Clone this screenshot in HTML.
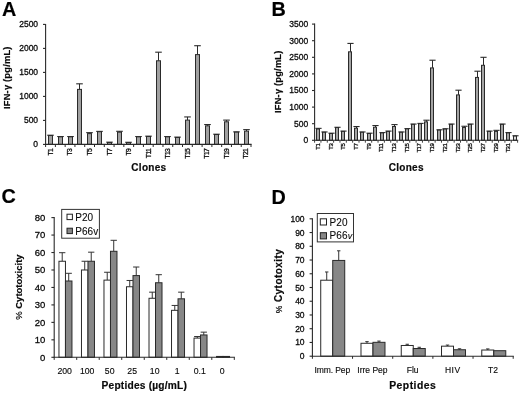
<!DOCTYPE html>
<html><head><meta charset="utf-8"><title>Figure</title>
<style>
html,body{margin:0;padding:0;background:#fff;}
body{width:520px;height:393px;overflow:hidden;font-family:"Liberation Sans",sans-serif;}
svg{display:block;filter:blur(0.35px);}
svg text{font-family:"Liberation Sans",sans-serif;}
</style></head><body>
<svg width="520" height="393" viewBox="0 0 520 393">
<rect x="-5" y="-5" width="530" height="403" fill="#ffffff"/>
<text x="2.00" y="15.80" font-size="19.8" text-anchor="start" fill="#000" font-weight="bold" stroke="#000" stroke-width="0.18" >A</text>
<line x1="43.00" y1="144.40" x2="45.60" y2="144.40" stroke="#2a2a2a" stroke-width="1.1"/>
<text x="38.10" y="147.15" font-size="8.5" text-anchor="end" fill="#0a0a0a" stroke="#0a0a0a" stroke-width="0.28" >0</text>
<line x1="43.00" y1="120.40" x2="45.60" y2="120.40" stroke="#2a2a2a" stroke-width="1.1"/>
<text x="38.10" y="123.15" font-size="8.5" text-anchor="end" fill="#0a0a0a" stroke="#0a0a0a" stroke-width="0.28" >500</text>
<line x1="43.00" y1="96.40" x2="45.60" y2="96.40" stroke="#2a2a2a" stroke-width="1.1"/>
<text x="38.10" y="99.15" font-size="8.5" text-anchor="end" fill="#0a0a0a" stroke="#0a0a0a" stroke-width="0.28" >1000</text>
<line x1="43.00" y1="72.40" x2="45.60" y2="72.40" stroke="#2a2a2a" stroke-width="1.1"/>
<text x="38.10" y="75.15" font-size="8.5" text-anchor="end" fill="#0a0a0a" stroke="#0a0a0a" stroke-width="0.28" >1500</text>
<line x1="43.00" y1="48.40" x2="45.60" y2="48.40" stroke="#2a2a2a" stroke-width="1.1"/>
<text x="38.10" y="51.15" font-size="8.5" text-anchor="end" fill="#0a0a0a" stroke="#0a0a0a" stroke-width="0.28" >2000</text>
<line x1="43.00" y1="24.40" x2="45.60" y2="24.40" stroke="#2a2a2a" stroke-width="1.1"/>
<text x="38.10" y="27.15" font-size="8.5" text-anchor="end" fill="#0a0a0a" stroke="#0a0a0a" stroke-width="0.28" >2500</text>
<line x1="50.50" y1="135.52" x2="50.50" y2="135.22" stroke="#2a2a2a" stroke-width="1"/>
<line x1="47.20" y1="135.22" x2="53.80" y2="135.22" stroke="#2a2a2a" stroke-width="1.1"/>
<rect x="48.50" y="135.52" width="4.00" height="8.88" fill="#a0a0a0" stroke="#2a2a2a" stroke-width="1.0"/>
<line x1="60.50" y1="136.82" x2="60.50" y2="136.52" stroke="#2a2a2a" stroke-width="1"/>
<line x1="57.20" y1="136.52" x2="63.80" y2="136.52" stroke="#2a2a2a" stroke-width="1.1"/>
<rect x="58.50" y="136.82" width="4.00" height="7.58" fill="#a0a0a0" stroke="#2a2a2a" stroke-width="1.0"/>
<line x1="70.50" y1="136.82" x2="70.50" y2="136.52" stroke="#2a2a2a" stroke-width="1"/>
<line x1="67.20" y1="136.52" x2="73.80" y2="136.52" stroke="#2a2a2a" stroke-width="1.1"/>
<rect x="68.50" y="136.82" width="4.00" height="7.58" fill="#a0a0a0" stroke="#2a2a2a" stroke-width="1.0"/>
<line x1="79.50" y1="89.39" x2="79.50" y2="83.82" stroke="#2a2a2a" stroke-width="1"/>
<line x1="76.20" y1="83.82" x2="82.80" y2="83.82" stroke="#2a2a2a" stroke-width="1.1"/>
<rect x="77.50" y="89.39" width="4.00" height="55.01" fill="#a0a0a0" stroke="#2a2a2a" stroke-width="1.0"/>
<line x1="89.50" y1="133.60" x2="89.50" y2="132.64" stroke="#2a2a2a" stroke-width="1"/>
<line x1="86.20" y1="132.64" x2="92.80" y2="132.64" stroke="#2a2a2a" stroke-width="1.1"/>
<rect x="87.50" y="133.60" width="4.00" height="10.80" fill="#a0a0a0" stroke="#2a2a2a" stroke-width="1.0"/>
<line x1="99.50" y1="131.68" x2="99.50" y2="131.38" stroke="#2a2a2a" stroke-width="1"/>
<line x1="96.20" y1="131.38" x2="102.80" y2="131.38" stroke="#2a2a2a" stroke-width="1.1"/>
<rect x="97.50" y="131.68" width="4.00" height="12.72" fill="#a0a0a0" stroke="#2a2a2a" stroke-width="1.0"/>
<line x1="109.50" y1="142.48" x2="109.50" y2="142.18" stroke="#2a2a2a" stroke-width="1"/>
<line x1="106.20" y1="142.18" x2="112.80" y2="142.18" stroke="#2a2a2a" stroke-width="1.1"/>
<rect x="107.50" y="142.48" width="4.00" height="1.92" fill="#a0a0a0" stroke="#2a2a2a" stroke-width="1.0"/>
<line x1="119.50" y1="132.16" x2="119.50" y2="131.30" stroke="#2a2a2a" stroke-width="1"/>
<line x1="116.20" y1="131.30" x2="122.80" y2="131.30" stroke="#2a2a2a" stroke-width="1.1"/>
<rect x="117.50" y="132.16" width="4.00" height="12.24" fill="#a0a0a0" stroke="#2a2a2a" stroke-width="1.0"/>
<line x1="128.50" y1="142.58" x2="128.50" y2="142.28" stroke="#2a2a2a" stroke-width="1"/>
<line x1="125.20" y1="142.28" x2="131.80" y2="142.28" stroke="#2a2a2a" stroke-width="1.1"/>
<rect x="126.50" y="142.58" width="4.00" height="1.82" fill="#a0a0a0" stroke="#2a2a2a" stroke-width="1.0"/>
<line x1="138.50" y1="136.82" x2="138.50" y2="136.52" stroke="#2a2a2a" stroke-width="1"/>
<line x1="135.20" y1="136.52" x2="141.80" y2="136.52" stroke="#2a2a2a" stroke-width="1.1"/>
<rect x="136.50" y="136.82" width="4.00" height="7.58" fill="#a0a0a0" stroke="#2a2a2a" stroke-width="1.0"/>
<line x1="148.50" y1="136.48" x2="148.50" y2="136.18" stroke="#2a2a2a" stroke-width="1"/>
<line x1="145.20" y1="136.18" x2="151.80" y2="136.18" stroke="#2a2a2a" stroke-width="1.1"/>
<rect x="146.50" y="136.48" width="4.00" height="7.92" fill="#a0a0a0" stroke="#2a2a2a" stroke-width="1.0"/>
<line x1="158.50" y1="60.78" x2="158.50" y2="52.19" stroke="#2a2a2a" stroke-width="1"/>
<line x1="155.20" y1="52.19" x2="161.80" y2="52.19" stroke="#2a2a2a" stroke-width="1.1"/>
<rect x="156.50" y="60.78" width="4.00" height="83.62" fill="#a0a0a0" stroke="#2a2a2a" stroke-width="1.0"/>
<line x1="167.50" y1="136.82" x2="167.50" y2="136.52" stroke="#2a2a2a" stroke-width="1"/>
<line x1="164.20" y1="136.52" x2="170.80" y2="136.52" stroke="#2a2a2a" stroke-width="1.1"/>
<rect x="165.50" y="136.82" width="4.00" height="7.58" fill="#a0a0a0" stroke="#2a2a2a" stroke-width="1.0"/>
<line x1="177.50" y1="137.44" x2="177.50" y2="137.14" stroke="#2a2a2a" stroke-width="1"/>
<line x1="174.20" y1="137.14" x2="180.80" y2="137.14" stroke="#2a2a2a" stroke-width="1.1"/>
<rect x="175.50" y="137.44" width="4.00" height="6.96" fill="#a0a0a0" stroke="#2a2a2a" stroke-width="1.0"/>
<line x1="187.50" y1="120.11" x2="187.50" y2="116.94" stroke="#2a2a2a" stroke-width="1"/>
<line x1="184.20" y1="116.94" x2="190.80" y2="116.94" stroke="#2a2a2a" stroke-width="1.1"/>
<rect x="185.50" y="120.11" width="4.00" height="24.29" fill="#a0a0a0" stroke="#2a2a2a" stroke-width="1.0"/>
<line x1="197.50" y1="54.59" x2="197.50" y2="45.71" stroke="#2a2a2a" stroke-width="1"/>
<line x1="194.20" y1="45.71" x2="200.80" y2="45.71" stroke="#2a2a2a" stroke-width="1.1"/>
<rect x="195.50" y="54.59" width="4.00" height="89.81" fill="#a0a0a0" stroke="#2a2a2a" stroke-width="1.0"/>
<line x1="207.50" y1="125.82" x2="207.50" y2="124.53" stroke="#2a2a2a" stroke-width="1"/>
<line x1="204.20" y1="124.53" x2="210.80" y2="124.53" stroke="#2a2a2a" stroke-width="1.1"/>
<rect x="205.50" y="125.82" width="4.00" height="18.58" fill="#a0a0a0" stroke="#2a2a2a" stroke-width="1.0"/>
<line x1="216.50" y1="134.51" x2="216.50" y2="134.21" stroke="#2a2a2a" stroke-width="1"/>
<line x1="213.20" y1="134.21" x2="219.80" y2="134.21" stroke="#2a2a2a" stroke-width="1.1"/>
<rect x="214.50" y="134.51" width="4.00" height="9.89" fill="#a0a0a0" stroke="#2a2a2a" stroke-width="1.0"/>
<line x1="226.50" y1="121.79" x2="226.50" y2="120.11" stroke="#2a2a2a" stroke-width="1"/>
<line x1="223.20" y1="120.11" x2="229.80" y2="120.11" stroke="#2a2a2a" stroke-width="1.1"/>
<rect x="224.50" y="121.79" width="4.00" height="22.61" fill="#a0a0a0" stroke="#2a2a2a" stroke-width="1.0"/>
<line x1="236.50" y1="132.16" x2="236.50" y2="131.86" stroke="#2a2a2a" stroke-width="1"/>
<line x1="233.20" y1="131.86" x2="239.80" y2="131.86" stroke="#2a2a2a" stroke-width="1.1"/>
<rect x="234.50" y="132.16" width="4.00" height="12.24" fill="#a0a0a0" stroke="#2a2a2a" stroke-width="1.0"/>
<line x1="246.50" y1="131.10" x2="246.50" y2="129.62" stroke="#2a2a2a" stroke-width="1"/>
<line x1="243.20" y1="129.62" x2="249.80" y2="129.62" stroke="#2a2a2a" stroke-width="1.1"/>
<rect x="244.50" y="131.10" width="4.00" height="13.30" fill="#a0a0a0" stroke="#2a2a2a" stroke-width="1.0"/>
<line x1="45.60" y1="23.90" x2="45.60" y2="144.90" stroke="#2a2a2a" stroke-width="1.1"/>
<line x1="45.10" y1="144.40" x2="251.60" y2="144.40" stroke="#2a2a2a" stroke-width="1.1"/>
<line x1="45.60" y1="144.40" x2="45.60" y2="147.00" stroke="#2a2a2a" stroke-width="1"/>
<line x1="55.38" y1="144.40" x2="55.38" y2="147.00" stroke="#2a2a2a" stroke-width="1"/>
<line x1="65.16" y1="144.40" x2="65.16" y2="147.00" stroke="#2a2a2a" stroke-width="1"/>
<line x1="74.94" y1="144.40" x2="74.94" y2="147.00" stroke="#2a2a2a" stroke-width="1"/>
<line x1="84.72" y1="144.40" x2="84.72" y2="147.00" stroke="#2a2a2a" stroke-width="1"/>
<line x1="94.50" y1="144.40" x2="94.50" y2="147.00" stroke="#2a2a2a" stroke-width="1"/>
<line x1="104.29" y1="144.40" x2="104.29" y2="147.00" stroke="#2a2a2a" stroke-width="1"/>
<line x1="114.07" y1="144.40" x2="114.07" y2="147.00" stroke="#2a2a2a" stroke-width="1"/>
<line x1="123.85" y1="144.40" x2="123.85" y2="147.00" stroke="#2a2a2a" stroke-width="1"/>
<line x1="133.63" y1="144.40" x2="133.63" y2="147.00" stroke="#2a2a2a" stroke-width="1"/>
<line x1="143.41" y1="144.40" x2="143.41" y2="147.00" stroke="#2a2a2a" stroke-width="1"/>
<line x1="153.19" y1="144.40" x2="153.19" y2="147.00" stroke="#2a2a2a" stroke-width="1"/>
<line x1="162.97" y1="144.40" x2="162.97" y2="147.00" stroke="#2a2a2a" stroke-width="1"/>
<line x1="172.75" y1="144.40" x2="172.75" y2="147.00" stroke="#2a2a2a" stroke-width="1"/>
<line x1="182.53" y1="144.40" x2="182.53" y2="147.00" stroke="#2a2a2a" stroke-width="1"/>
<line x1="192.31" y1="144.40" x2="192.31" y2="147.00" stroke="#2a2a2a" stroke-width="1"/>
<line x1="202.10" y1="144.40" x2="202.10" y2="147.00" stroke="#2a2a2a" stroke-width="1"/>
<line x1="211.88" y1="144.40" x2="211.88" y2="147.00" stroke="#2a2a2a" stroke-width="1"/>
<line x1="221.66" y1="144.40" x2="221.66" y2="147.00" stroke="#2a2a2a" stroke-width="1"/>
<line x1="231.44" y1="144.40" x2="231.44" y2="147.00" stroke="#2a2a2a" stroke-width="1"/>
<line x1="241.22" y1="144.40" x2="241.22" y2="147.00" stroke="#2a2a2a" stroke-width="1"/>
<line x1="251.00" y1="144.40" x2="251.00" y2="147.00" stroke="#2a2a2a" stroke-width="1"/>
<text x="52.84" y="148.70" font-size="6.8" text-anchor="end" fill="#0a0a0a" stroke="#0a0a0a" stroke-width="0.28" transform="rotate(-90 52.84 148.70)" letter-spacing="-0.6">T1</text>
<text x="72.40" y="148.70" font-size="6.8" text-anchor="end" fill="#0a0a0a" stroke="#0a0a0a" stroke-width="0.28" transform="rotate(-90 72.40 148.70)" letter-spacing="-0.6">T3</text>
<text x="91.96" y="148.70" font-size="6.8" text-anchor="end" fill="#0a0a0a" stroke="#0a0a0a" stroke-width="0.28" transform="rotate(-90 91.96 148.70)" letter-spacing="-0.6">T5</text>
<text x="111.53" y="148.70" font-size="6.8" text-anchor="end" fill="#0a0a0a" stroke="#0a0a0a" stroke-width="0.28" transform="rotate(-90 111.53 148.70)" letter-spacing="-0.6">T7</text>
<text x="131.09" y="148.70" font-size="6.8" text-anchor="end" fill="#0a0a0a" stroke="#0a0a0a" stroke-width="0.28" transform="rotate(-90 131.09 148.70)" letter-spacing="-0.6">T9</text>
<text x="150.65" y="148.70" font-size="6.8" text-anchor="end" fill="#0a0a0a" stroke="#0a0a0a" stroke-width="0.28" transform="rotate(-90 150.65 148.70)" letter-spacing="-0.6">T11</text>
<text x="170.21" y="148.70" font-size="6.8" text-anchor="end" fill="#0a0a0a" stroke="#0a0a0a" stroke-width="0.28" transform="rotate(-90 170.21 148.70)" letter-spacing="-0.6">T13</text>
<text x="189.77" y="148.70" font-size="6.8" text-anchor="end" fill="#0a0a0a" stroke="#0a0a0a" stroke-width="0.28" transform="rotate(-90 189.77 148.70)" letter-spacing="-0.6">T15</text>
<text x="209.34" y="148.70" font-size="6.8" text-anchor="end" fill="#0a0a0a" stroke="#0a0a0a" stroke-width="0.28" transform="rotate(-90 209.34 148.70)" letter-spacing="-0.6">T17</text>
<text x="228.90" y="148.70" font-size="6.8" text-anchor="end" fill="#0a0a0a" stroke="#0a0a0a" stroke-width="0.28" transform="rotate(-90 228.90 148.70)" letter-spacing="-0.6">T19</text>
<text x="248.46" y="148.70" font-size="6.8" text-anchor="end" fill="#0a0a0a" stroke="#0a0a0a" stroke-width="0.28" transform="rotate(-90 248.46 148.70)" letter-spacing="-0.6">T21</text>
<text x="148.90" y="170.80" font-size="10" text-anchor="middle" fill="#0a0a0a" font-weight="bold" stroke="#0a0a0a" stroke-width="0.18" letter-spacing="0.3">Clones</text>
<text x="10.30" y="77.70" font-size="9.3" text-anchor="middle" fill="#0a0a0a" font-weight="bold" stroke="#0a0a0a" stroke-width="0.18" transform="rotate(-90 10.30 77.70)" letter-spacing="0.2">IFN-&#947; (pg/mL)</text>
<text x="271.60" y="16.00" font-size="19.8" text-anchor="start" fill="#000" font-weight="bold" stroke="#000" stroke-width="0.18" >B</text>
<line x1="312.00" y1="140.30" x2="314.60" y2="140.30" stroke="#2a2a2a" stroke-width="1.1"/>
<text x="308.20" y="143.20" font-size="8.5" text-anchor="end" fill="#0a0a0a" stroke="#0a0a0a" stroke-width="0.28" >0</text>
<line x1="312.00" y1="123.70" x2="314.60" y2="123.70" stroke="#2a2a2a" stroke-width="1.1"/>
<text x="308.20" y="126.60" font-size="8.5" text-anchor="end" fill="#0a0a0a" stroke="#0a0a0a" stroke-width="0.28" >500</text>
<line x1="312.00" y1="107.10" x2="314.60" y2="107.10" stroke="#2a2a2a" stroke-width="1.1"/>
<text x="308.20" y="110.00" font-size="8.5" text-anchor="end" fill="#0a0a0a" stroke="#0a0a0a" stroke-width="0.28" >1000</text>
<line x1="312.00" y1="90.50" x2="314.60" y2="90.50" stroke="#2a2a2a" stroke-width="1.1"/>
<text x="308.20" y="93.40" font-size="8.5" text-anchor="end" fill="#0a0a0a" stroke="#0a0a0a" stroke-width="0.28" >1500</text>
<line x1="312.00" y1="73.90" x2="314.60" y2="73.90" stroke="#2a2a2a" stroke-width="1.1"/>
<text x="308.20" y="76.80" font-size="8.5" text-anchor="end" fill="#0a0a0a" stroke="#0a0a0a" stroke-width="0.28" >2000</text>
<line x1="312.00" y1="57.30" x2="314.60" y2="57.30" stroke="#2a2a2a" stroke-width="1.1"/>
<text x="308.20" y="60.20" font-size="8.5" text-anchor="end" fill="#0a0a0a" stroke="#0a0a0a" stroke-width="0.28" >2500</text>
<line x1="312.00" y1="40.70" x2="314.60" y2="40.70" stroke="#2a2a2a" stroke-width="1.1"/>
<text x="308.20" y="43.60" font-size="8.5" text-anchor="end" fill="#0a0a0a" stroke="#0a0a0a" stroke-width="0.28" >3000</text>
<line x1="312.00" y1="24.10" x2="314.60" y2="24.10" stroke="#2a2a2a" stroke-width="1.1"/>
<text x="308.20" y="27.00" font-size="8.5" text-anchor="end" fill="#0a0a0a" stroke="#0a0a0a" stroke-width="0.28" >3500</text>
<line x1="318.50" y1="129.01" x2="318.50" y2="128.35" stroke="#2a2a2a" stroke-width="1"/>
<line x1="315.40" y1="128.35" x2="321.60" y2="128.35" stroke="#2a2a2a" stroke-width="1.1"/>
<rect x="316.50" y="129.01" width="3.00" height="11.29" fill="#a4a4a4" stroke="#2a2a2a" stroke-width="1.0"/>
<line x1="324.50" y1="132.27" x2="324.50" y2="131.97" stroke="#2a2a2a" stroke-width="1"/>
<line x1="321.40" y1="131.97" x2="327.60" y2="131.97" stroke="#2a2a2a" stroke-width="1.1"/>
<rect x="322.50" y="132.27" width="3.00" height="8.03" fill="#a4a4a4" stroke="#2a2a2a" stroke-width="1.0"/>
<line x1="331.50" y1="133.49" x2="331.50" y2="133.19" stroke="#2a2a2a" stroke-width="1"/>
<line x1="328.40" y1="133.19" x2="334.60" y2="133.19" stroke="#2a2a2a" stroke-width="1.1"/>
<rect x="329.50" y="133.49" width="3.00" height="6.81" fill="#a4a4a4" stroke="#2a2a2a" stroke-width="1.0"/>
<line x1="337.50" y1="127.58" x2="337.50" y2="127.28" stroke="#2a2a2a" stroke-width="1"/>
<line x1="334.40" y1="127.28" x2="340.60" y2="127.28" stroke="#2a2a2a" stroke-width="1.1"/>
<rect x="335.50" y="127.58" width="3.00" height="12.72" fill="#a4a4a4" stroke="#2a2a2a" stroke-width="1.0"/>
<line x1="343.50" y1="131.40" x2="343.50" y2="131.10" stroke="#2a2a2a" stroke-width="1"/>
<line x1="340.40" y1="131.10" x2="346.60" y2="131.10" stroke="#2a2a2a" stroke-width="1.1"/>
<rect x="341.50" y="131.40" width="3.00" height="8.90" fill="#a4a4a4" stroke="#2a2a2a" stroke-width="1.0"/>
<line x1="350.50" y1="51.82" x2="350.50" y2="43.42" stroke="#2a2a2a" stroke-width="1"/>
<line x1="347.40" y1="43.42" x2="353.60" y2="43.42" stroke="#2a2a2a" stroke-width="1.1"/>
<rect x="348.50" y="51.82" width="3.00" height="88.48" fill="#a4a4a4" stroke="#2a2a2a" stroke-width="1.0"/>
<line x1="356.50" y1="128.18" x2="356.50" y2="126.52" stroke="#2a2a2a" stroke-width="1"/>
<line x1="353.40" y1="126.52" x2="359.60" y2="126.52" stroke="#2a2a2a" stroke-width="1.1"/>
<rect x="354.50" y="128.18" width="3.00" height="12.12" fill="#a4a4a4" stroke="#2a2a2a" stroke-width="1.0"/>
<line x1="362.50" y1="132.27" x2="362.50" y2="131.97" stroke="#2a2a2a" stroke-width="1"/>
<line x1="359.40" y1="131.97" x2="365.60" y2="131.97" stroke="#2a2a2a" stroke-width="1.1"/>
<rect x="360.50" y="132.27" width="3.00" height="8.03" fill="#a4a4a4" stroke="#2a2a2a" stroke-width="1.0"/>
<line x1="369.50" y1="133.49" x2="369.50" y2="133.19" stroke="#2a2a2a" stroke-width="1"/>
<line x1="366.40" y1="133.19" x2="372.60" y2="133.19" stroke="#2a2a2a" stroke-width="1.1"/>
<rect x="367.50" y="133.49" width="3.00" height="6.81" fill="#a4a4a4" stroke="#2a2a2a" stroke-width="1.0"/>
<line x1="375.50" y1="127.19" x2="375.50" y2="125.53" stroke="#2a2a2a" stroke-width="1"/>
<line x1="372.40" y1="125.53" x2="378.60" y2="125.53" stroke="#2a2a2a" stroke-width="1.1"/>
<rect x="373.50" y="127.19" width="3.00" height="13.11" fill="#a4a4a4" stroke="#2a2a2a" stroke-width="1.0"/>
<line x1="382.50" y1="132.90" x2="382.50" y2="132.60" stroke="#2a2a2a" stroke-width="1"/>
<line x1="379.40" y1="132.60" x2="385.60" y2="132.60" stroke="#2a2a2a" stroke-width="1.1"/>
<rect x="380.50" y="132.90" width="3.00" height="7.40" fill="#a4a4a4" stroke="#2a2a2a" stroke-width="1.0"/>
<line x1="388.50" y1="131.40" x2="388.50" y2="131.10" stroke="#2a2a2a" stroke-width="1"/>
<line x1="385.40" y1="131.10" x2="391.60" y2="131.10" stroke="#2a2a2a" stroke-width="1.1"/>
<rect x="386.50" y="131.40" width="3.00" height="8.90" fill="#a4a4a4" stroke="#2a2a2a" stroke-width="1.0"/>
<line x1="394.50" y1="126.52" x2="394.50" y2="124.60" stroke="#2a2a2a" stroke-width="1"/>
<line x1="391.40" y1="124.60" x2="397.60" y2="124.60" stroke="#2a2a2a" stroke-width="1.1"/>
<rect x="392.50" y="126.52" width="3.00" height="13.78" fill="#a4a4a4" stroke="#2a2a2a" stroke-width="1.0"/>
<line x1="401.50" y1="132.27" x2="401.50" y2="131.97" stroke="#2a2a2a" stroke-width="1"/>
<line x1="398.40" y1="131.97" x2="404.60" y2="131.97" stroke="#2a2a2a" stroke-width="1.1"/>
<rect x="399.50" y="132.27" width="3.00" height="8.03" fill="#a4a4a4" stroke="#2a2a2a" stroke-width="1.0"/>
<line x1="407.50" y1="128.91" x2="407.50" y2="128.61" stroke="#2a2a2a" stroke-width="1"/>
<line x1="404.40" y1="128.61" x2="410.60" y2="128.61" stroke="#2a2a2a" stroke-width="1.1"/>
<rect x="405.50" y="128.91" width="3.00" height="11.39" fill="#a4a4a4" stroke="#2a2a2a" stroke-width="1.0"/>
<line x1="413.50" y1="124.36" x2="413.50" y2="124.06" stroke="#2a2a2a" stroke-width="1"/>
<line x1="410.40" y1="124.06" x2="416.60" y2="124.06" stroke="#2a2a2a" stroke-width="1.1"/>
<rect x="411.50" y="124.36" width="3.00" height="15.94" fill="#a4a4a4" stroke="#2a2a2a" stroke-width="1.0"/>
<line x1="420.50" y1="123.70" x2="420.50" y2="123.40" stroke="#2a2a2a" stroke-width="1"/>
<line x1="417.40" y1="123.40" x2="423.60" y2="123.40" stroke="#2a2a2a" stroke-width="1.1"/>
<rect x="418.50" y="123.70" width="3.00" height="16.60" fill="#a4a4a4" stroke="#2a2a2a" stroke-width="1.0"/>
<line x1="426.50" y1="121.87" x2="426.50" y2="120.21" stroke="#2a2a2a" stroke-width="1"/>
<line x1="423.40" y1="120.21" x2="429.60" y2="120.21" stroke="#2a2a2a" stroke-width="1.1"/>
<rect x="424.50" y="121.87" width="3.00" height="18.43" fill="#a4a4a4" stroke="#2a2a2a" stroke-width="1.0"/>
<line x1="432.50" y1="67.92" x2="432.50" y2="60.22" stroke="#2a2a2a" stroke-width="1"/>
<line x1="429.40" y1="60.22" x2="435.60" y2="60.22" stroke="#2a2a2a" stroke-width="1.1"/>
<rect x="430.50" y="67.92" width="3.00" height="72.38" fill="#a4a4a4" stroke="#2a2a2a" stroke-width="1.0"/>
<line x1="439.50" y1="130.11" x2="439.50" y2="129.81" stroke="#2a2a2a" stroke-width="1"/>
<line x1="436.40" y1="129.81" x2="442.60" y2="129.81" stroke="#2a2a2a" stroke-width="1.1"/>
<rect x="437.50" y="130.11" width="3.00" height="10.19" fill="#a4a4a4" stroke="#2a2a2a" stroke-width="1.0"/>
<line x1="445.50" y1="129.08" x2="445.50" y2="128.78" stroke="#2a2a2a" stroke-width="1"/>
<line x1="442.40" y1="128.78" x2="448.60" y2="128.78" stroke="#2a2a2a" stroke-width="1.1"/>
<rect x="443.50" y="129.08" width="3.00" height="11.22" fill="#a4a4a4" stroke="#2a2a2a" stroke-width="1.0"/>
<line x1="451.50" y1="124.36" x2="451.50" y2="124.06" stroke="#2a2a2a" stroke-width="1"/>
<line x1="448.40" y1="124.06" x2="454.60" y2="124.06" stroke="#2a2a2a" stroke-width="1.1"/>
<rect x="449.50" y="124.36" width="3.00" height="15.94" fill="#a4a4a4" stroke="#2a2a2a" stroke-width="1.0"/>
<line x1="458.50" y1="94.92" x2="458.50" y2="90.20" stroke="#2a2a2a" stroke-width="1"/>
<line x1="455.40" y1="90.20" x2="461.60" y2="90.20" stroke="#2a2a2a" stroke-width="1.1"/>
<rect x="456.50" y="94.92" width="3.00" height="45.38" fill="#a4a4a4" stroke="#2a2a2a" stroke-width="1.0"/>
<line x1="464.50" y1="127.52" x2="464.50" y2="126.26" stroke="#2a2a2a" stroke-width="1"/>
<line x1="461.40" y1="126.26" x2="467.60" y2="126.26" stroke="#2a2a2a" stroke-width="1.1"/>
<rect x="462.50" y="127.52" width="3.00" height="12.78" fill="#a4a4a4" stroke="#2a2a2a" stroke-width="1.0"/>
<line x1="470.50" y1="124.36" x2="470.50" y2="124.06" stroke="#2a2a2a" stroke-width="1"/>
<line x1="467.40" y1="124.06" x2="473.60" y2="124.06" stroke="#2a2a2a" stroke-width="1.1"/>
<rect x="468.50" y="124.36" width="3.00" height="15.94" fill="#a4a4a4" stroke="#2a2a2a" stroke-width="1.0"/>
<line x1="477.50" y1="77.42" x2="477.50" y2="71.21" stroke="#2a2a2a" stroke-width="1"/>
<line x1="474.40" y1="71.21" x2="480.60" y2="71.21" stroke="#2a2a2a" stroke-width="1.1"/>
<rect x="475.50" y="77.42" width="3.00" height="62.88" fill="#a4a4a4" stroke="#2a2a2a" stroke-width="1.0"/>
<line x1="483.50" y1="65.30" x2="483.50" y2="57.30" stroke="#2a2a2a" stroke-width="1"/>
<line x1="480.40" y1="57.30" x2="486.60" y2="57.30" stroke="#2a2a2a" stroke-width="1.1"/>
<rect x="481.50" y="65.30" width="3.00" height="75.00" fill="#a4a4a4" stroke="#2a2a2a" stroke-width="1.0"/>
<line x1="489.50" y1="131.40" x2="489.50" y2="131.10" stroke="#2a2a2a" stroke-width="1"/>
<line x1="486.40" y1="131.10" x2="492.60" y2="131.10" stroke="#2a2a2a" stroke-width="1.1"/>
<rect x="487.50" y="131.40" width="3.00" height="8.90" fill="#a4a4a4" stroke="#2a2a2a" stroke-width="1.0"/>
<line x1="496.50" y1="131.40" x2="496.50" y2="130.34" stroke="#2a2a2a" stroke-width="1"/>
<line x1="493.40" y1="130.34" x2="499.60" y2="130.34" stroke="#2a2a2a" stroke-width="1.1"/>
<rect x="494.50" y="131.40" width="3.00" height="8.90" fill="#a4a4a4" stroke="#2a2a2a" stroke-width="1.0"/>
<line x1="502.50" y1="124.36" x2="502.50" y2="124.06" stroke="#2a2a2a" stroke-width="1"/>
<line x1="499.40" y1="124.06" x2="505.60" y2="124.06" stroke="#2a2a2a" stroke-width="1.1"/>
<rect x="500.50" y="124.36" width="3.00" height="15.94" fill="#a4a4a4" stroke="#2a2a2a" stroke-width="1.0"/>
<line x1="508.50" y1="132.90" x2="508.50" y2="132.60" stroke="#2a2a2a" stroke-width="1"/>
<line x1="505.40" y1="132.60" x2="511.60" y2="132.60" stroke="#2a2a2a" stroke-width="1.1"/>
<rect x="506.50" y="132.90" width="3.00" height="7.40" fill="#a4a4a4" stroke="#2a2a2a" stroke-width="1.0"/>
<line x1="515.50" y1="136.08" x2="515.50" y2="135.78" stroke="#2a2a2a" stroke-width="1"/>
<line x1="512.40" y1="135.78" x2="518.60" y2="135.78" stroke="#2a2a2a" stroke-width="1.1"/>
<rect x="513.50" y="136.08" width="3.00" height="4.22" fill="#dcdcdc" stroke="#2a2a2a" stroke-width="1.0"/>
<line x1="314.60" y1="23.60" x2="314.60" y2="140.80" stroke="#2a2a2a" stroke-width="1.1"/>
<line x1="314.10" y1="140.30" x2="518.20" y2="140.30" stroke="#2a2a2a" stroke-width="1.1"/>
<line x1="314.60" y1="140.30" x2="314.60" y2="142.70" stroke="#2a2a2a" stroke-width="0.9"/>
<line x1="320.94" y1="140.30" x2="320.94" y2="142.70" stroke="#2a2a2a" stroke-width="0.9"/>
<line x1="327.29" y1="140.30" x2="327.29" y2="142.70" stroke="#2a2a2a" stroke-width="0.9"/>
<line x1="333.63" y1="140.30" x2="333.63" y2="142.70" stroke="#2a2a2a" stroke-width="0.9"/>
<line x1="339.98" y1="140.30" x2="339.98" y2="142.70" stroke="#2a2a2a" stroke-width="0.9"/>
<line x1="346.32" y1="140.30" x2="346.32" y2="142.70" stroke="#2a2a2a" stroke-width="0.9"/>
<line x1="352.66" y1="140.30" x2="352.66" y2="142.70" stroke="#2a2a2a" stroke-width="0.9"/>
<line x1="359.01" y1="140.30" x2="359.01" y2="142.70" stroke="#2a2a2a" stroke-width="0.9"/>
<line x1="365.35" y1="140.30" x2="365.35" y2="142.70" stroke="#2a2a2a" stroke-width="0.9"/>
<line x1="371.69" y1="140.30" x2="371.69" y2="142.70" stroke="#2a2a2a" stroke-width="0.9"/>
<line x1="378.04" y1="140.30" x2="378.04" y2="142.70" stroke="#2a2a2a" stroke-width="0.9"/>
<line x1="384.38" y1="140.30" x2="384.38" y2="142.70" stroke="#2a2a2a" stroke-width="0.9"/>
<line x1="390.73" y1="140.30" x2="390.73" y2="142.70" stroke="#2a2a2a" stroke-width="0.9"/>
<line x1="397.07" y1="140.30" x2="397.07" y2="142.70" stroke="#2a2a2a" stroke-width="0.9"/>
<line x1="403.41" y1="140.30" x2="403.41" y2="142.70" stroke="#2a2a2a" stroke-width="0.9"/>
<line x1="409.76" y1="140.30" x2="409.76" y2="142.70" stroke="#2a2a2a" stroke-width="0.9"/>
<line x1="416.10" y1="140.30" x2="416.10" y2="142.70" stroke="#2a2a2a" stroke-width="0.9"/>
<line x1="422.44" y1="140.30" x2="422.44" y2="142.70" stroke="#2a2a2a" stroke-width="0.9"/>
<line x1="428.79" y1="140.30" x2="428.79" y2="142.70" stroke="#2a2a2a" stroke-width="0.9"/>
<line x1="435.13" y1="140.30" x2="435.13" y2="142.70" stroke="#2a2a2a" stroke-width="0.9"/>
<line x1="441.48" y1="140.30" x2="441.48" y2="142.70" stroke="#2a2a2a" stroke-width="0.9"/>
<line x1="447.82" y1="140.30" x2="447.82" y2="142.70" stroke="#2a2a2a" stroke-width="0.9"/>
<line x1="454.16" y1="140.30" x2="454.16" y2="142.70" stroke="#2a2a2a" stroke-width="0.9"/>
<line x1="460.51" y1="140.30" x2="460.51" y2="142.70" stroke="#2a2a2a" stroke-width="0.9"/>
<line x1="466.85" y1="140.30" x2="466.85" y2="142.70" stroke="#2a2a2a" stroke-width="0.9"/>
<line x1="473.19" y1="140.30" x2="473.19" y2="142.70" stroke="#2a2a2a" stroke-width="0.9"/>
<line x1="479.54" y1="140.30" x2="479.54" y2="142.70" stroke="#2a2a2a" stroke-width="0.9"/>
<line x1="485.88" y1="140.30" x2="485.88" y2="142.70" stroke="#2a2a2a" stroke-width="0.9"/>
<line x1="492.23" y1="140.30" x2="492.23" y2="142.70" stroke="#2a2a2a" stroke-width="0.9"/>
<line x1="498.57" y1="140.30" x2="498.57" y2="142.70" stroke="#2a2a2a" stroke-width="0.9"/>
<line x1="504.91" y1="140.30" x2="504.91" y2="142.70" stroke="#2a2a2a" stroke-width="0.9"/>
<line x1="511.26" y1="140.30" x2="511.26" y2="142.70" stroke="#2a2a2a" stroke-width="0.9"/>
<line x1="517.60" y1="140.30" x2="517.60" y2="142.70" stroke="#2a2a2a" stroke-width="0.9"/>
<text x="319.97" y="143.70" font-size="6.0" text-anchor="end" fill="#0a0a0a" stroke="#0a0a0a" stroke-width="0.28" transform="rotate(-90 319.97 143.70)" letter-spacing="-0.5">T1</text>
<text x="332.66" y="143.70" font-size="6.0" text-anchor="end" fill="#0a0a0a" stroke="#0a0a0a" stroke-width="0.28" transform="rotate(-90 332.66 143.70)" letter-spacing="-0.5">T3</text>
<text x="345.35" y="143.70" font-size="6.0" text-anchor="end" fill="#0a0a0a" stroke="#0a0a0a" stroke-width="0.28" transform="rotate(-90 345.35 143.70)" letter-spacing="-0.5">T5</text>
<text x="358.03" y="143.70" font-size="6.0" text-anchor="end" fill="#0a0a0a" stroke="#0a0a0a" stroke-width="0.28" transform="rotate(-90 358.03 143.70)" letter-spacing="-0.5">T7</text>
<text x="370.72" y="143.70" font-size="6.0" text-anchor="end" fill="#0a0a0a" stroke="#0a0a0a" stroke-width="0.28" transform="rotate(-90 370.72 143.70)" letter-spacing="-0.5">T9</text>
<text x="383.41" y="143.70" font-size="6.0" text-anchor="end" fill="#0a0a0a" stroke="#0a0a0a" stroke-width="0.28" transform="rotate(-90 383.41 143.70)" letter-spacing="-0.5">T11</text>
<text x="396.10" y="143.70" font-size="6.0" text-anchor="end" fill="#0a0a0a" stroke="#0a0a0a" stroke-width="0.28" transform="rotate(-90 396.10 143.70)" letter-spacing="-0.5">T13</text>
<text x="408.78" y="143.70" font-size="6.0" text-anchor="end" fill="#0a0a0a" stroke="#0a0a0a" stroke-width="0.28" transform="rotate(-90 408.78 143.70)" letter-spacing="-0.5">T15</text>
<text x="421.47" y="143.70" font-size="6.0" text-anchor="end" fill="#0a0a0a" stroke="#0a0a0a" stroke-width="0.28" transform="rotate(-90 421.47 143.70)" letter-spacing="-0.5">T17</text>
<text x="434.16" y="143.70" font-size="6.0" text-anchor="end" fill="#0a0a0a" stroke="#0a0a0a" stroke-width="0.28" transform="rotate(-90 434.16 143.70)" letter-spacing="-0.5">T19</text>
<text x="446.85" y="143.70" font-size="6.0" text-anchor="end" fill="#0a0a0a" stroke="#0a0a0a" stroke-width="0.28" transform="rotate(-90 446.85 143.70)" letter-spacing="-0.5">T21</text>
<text x="459.53" y="143.70" font-size="6.0" text-anchor="end" fill="#0a0a0a" stroke="#0a0a0a" stroke-width="0.28" transform="rotate(-90 459.53 143.70)" letter-spacing="-0.5">T23</text>
<text x="472.22" y="143.70" font-size="6.0" text-anchor="end" fill="#0a0a0a" stroke="#0a0a0a" stroke-width="0.28" transform="rotate(-90 472.22 143.70)" letter-spacing="-0.5">T25</text>
<text x="484.91" y="143.70" font-size="6.0" text-anchor="end" fill="#0a0a0a" stroke="#0a0a0a" stroke-width="0.28" transform="rotate(-90 484.91 143.70)" letter-spacing="-0.5">T27</text>
<text x="497.60" y="143.70" font-size="6.0" text-anchor="end" fill="#0a0a0a" stroke="#0a0a0a" stroke-width="0.28" transform="rotate(-90 497.60 143.70)" letter-spacing="-0.5">T29</text>
<text x="510.28" y="143.70" font-size="6.0" text-anchor="end" fill="#0a0a0a" stroke="#0a0a0a" stroke-width="0.28" transform="rotate(-90 510.28 143.70)" letter-spacing="-0.5">T31</text>
<text x="406.20" y="171.20" font-size="10" text-anchor="middle" fill="#0a0a0a" font-weight="bold" stroke="#0a0a0a" stroke-width="0.18" letter-spacing="0.3">Clones</text>
<text x="281.00" y="81.70" font-size="9.3" text-anchor="middle" fill="#0a0a0a" font-weight="bold" stroke="#0a0a0a" stroke-width="0.18" transform="rotate(-90 281.00 81.70)" letter-spacing="0.2">IFN-&#947; (pg/mL)</text>
<text x="1.50" y="203.40" font-size="19.8" text-anchor="start" fill="#000" font-weight="bold" stroke="#000" stroke-width="0.18" >C</text>
<line x1="51.40" y1="357.30" x2="54.20" y2="357.30" stroke="#2a2a2a" stroke-width="1.1"/>
<text x="45.40" y="360.50" font-size="9.5" text-anchor="end" fill="#0a0a0a" stroke="#0a0a0a" stroke-width="0.28" >0</text>
<line x1="51.40" y1="339.84" x2="54.20" y2="339.84" stroke="#2a2a2a" stroke-width="1.1"/>
<text x="45.40" y="343.04" font-size="9.5" text-anchor="end" fill="#0a0a0a" stroke="#0a0a0a" stroke-width="0.28" >10</text>
<line x1="51.40" y1="322.38" x2="54.20" y2="322.38" stroke="#2a2a2a" stroke-width="1.1"/>
<text x="45.40" y="325.57" font-size="9.5" text-anchor="end" fill="#0a0a0a" stroke="#0a0a0a" stroke-width="0.28" >20</text>
<line x1="51.40" y1="304.91" x2="54.20" y2="304.91" stroke="#2a2a2a" stroke-width="1.1"/>
<text x="45.40" y="308.11" font-size="9.5" text-anchor="end" fill="#0a0a0a" stroke="#0a0a0a" stroke-width="0.28" >30</text>
<line x1="51.40" y1="287.45" x2="54.20" y2="287.45" stroke="#2a2a2a" stroke-width="1.1"/>
<text x="45.40" y="290.65" font-size="9.5" text-anchor="end" fill="#0a0a0a" stroke="#0a0a0a" stroke-width="0.28" >40</text>
<line x1="51.40" y1="269.99" x2="54.20" y2="269.99" stroke="#2a2a2a" stroke-width="1.1"/>
<text x="45.40" y="273.19" font-size="9.5" text-anchor="end" fill="#0a0a0a" stroke="#0a0a0a" stroke-width="0.28" >50</text>
<line x1="51.40" y1="252.52" x2="54.20" y2="252.52" stroke="#2a2a2a" stroke-width="1.1"/>
<text x="45.40" y="255.72" font-size="9.5" text-anchor="end" fill="#0a0a0a" stroke="#0a0a0a" stroke-width="0.28" >60</text>
<line x1="51.40" y1="235.06" x2="54.20" y2="235.06" stroke="#2a2a2a" stroke-width="1.1"/>
<text x="45.40" y="238.26" font-size="9.5" text-anchor="end" fill="#0a0a0a" stroke="#0a0a0a" stroke-width="0.28" >70</text>
<line x1="51.40" y1="217.60" x2="54.20" y2="217.60" stroke="#2a2a2a" stroke-width="1.1"/>
<text x="45.40" y="220.80" font-size="9.5" text-anchor="end" fill="#0a0a0a" stroke="#0a0a0a" stroke-width="0.28" >80</text>
<line x1="62.21" y1="261.26" x2="62.21" y2="252.70" stroke="#333" stroke-width="1"/>
<line x1="59.06" y1="252.70" x2="65.36" y2="252.70" stroke="#333" stroke-width="1"/>
<line x1="68.71" y1="280.99" x2="68.71" y2="273.31" stroke="#333" stroke-width="1"/>
<line x1="65.56" y1="273.31" x2="71.86" y2="273.31" stroke="#333" stroke-width="1"/>
<rect x="58.96" y="261.26" width="6.50" height="96.04" fill="#fff" stroke="#2a2a2a" stroke-width="1.0"/>
<rect x="65.46" y="280.99" width="6.50" height="76.31" fill="#878787" stroke="#2a2a2a" stroke-width="1.0"/>
<line x1="84.72" y1="269.99" x2="84.72" y2="261.26" stroke="#333" stroke-width="1"/>
<line x1="81.57" y1="261.26" x2="87.87" y2="261.26" stroke="#333" stroke-width="1"/>
<line x1="91.22" y1="261.26" x2="91.22" y2="252.18" stroke="#333" stroke-width="1"/>
<line x1="88.07" y1="252.18" x2="94.37" y2="252.18" stroke="#333" stroke-width="1"/>
<rect x="81.47" y="269.99" width="6.50" height="87.31" fill="#fff" stroke="#2a2a2a" stroke-width="1.0"/>
<rect x="87.97" y="261.26" width="6.50" height="96.04" fill="#878787" stroke="#2a2a2a" stroke-width="1.0"/>
<line x1="107.23" y1="280.12" x2="107.23" y2="272.26" stroke="#333" stroke-width="1"/>
<line x1="104.08" y1="272.26" x2="110.38" y2="272.26" stroke="#333" stroke-width="1"/>
<line x1="113.73" y1="251.30" x2="113.73" y2="240.30" stroke="#333" stroke-width="1"/>
<line x1="110.58" y1="240.30" x2="116.88" y2="240.30" stroke="#333" stroke-width="1"/>
<rect x="103.98" y="280.12" width="6.50" height="77.18" fill="#fff" stroke="#2a2a2a" stroke-width="1.0"/>
<rect x="110.48" y="251.30" width="6.50" height="106.00" fill="#878787" stroke="#2a2a2a" stroke-width="1.0"/>
<line x1="129.74" y1="286.75" x2="129.74" y2="280.47" stroke="#333" stroke-width="1"/>
<line x1="126.59" y1="280.47" x2="132.89" y2="280.47" stroke="#333" stroke-width="1"/>
<line x1="136.24" y1="275.58" x2="136.24" y2="267.02" stroke="#333" stroke-width="1"/>
<line x1="133.09" y1="267.02" x2="139.39" y2="267.02" stroke="#333" stroke-width="1"/>
<rect x="126.49" y="286.75" width="6.50" height="70.55" fill="#fff" stroke="#2a2a2a" stroke-width="1.0"/>
<rect x="132.99" y="275.58" width="6.50" height="81.72" fill="#878787" stroke="#2a2a2a" stroke-width="1.0"/>
<line x1="152.26" y1="298.28" x2="152.26" y2="292.16" stroke="#333" stroke-width="1"/>
<line x1="149.11" y1="292.16" x2="155.41" y2="292.16" stroke="#333" stroke-width="1"/>
<line x1="158.76" y1="282.74" x2="158.76" y2="274.70" stroke="#333" stroke-width="1"/>
<line x1="155.61" y1="274.70" x2="161.91" y2="274.70" stroke="#333" stroke-width="1"/>
<rect x="149.01" y="298.28" width="6.50" height="59.02" fill="#fff" stroke="#2a2a2a" stroke-width="1.0"/>
<rect x="155.51" y="282.74" width="6.50" height="74.56" fill="#878787" stroke="#2a2a2a" stroke-width="1.0"/>
<line x1="174.77" y1="310.33" x2="174.77" y2="305.44" stroke="#333" stroke-width="1"/>
<line x1="171.62" y1="305.44" x2="177.92" y2="305.44" stroke="#333" stroke-width="1"/>
<line x1="181.27" y1="298.80" x2="181.27" y2="292.16" stroke="#333" stroke-width="1"/>
<line x1="178.12" y1="292.16" x2="184.42" y2="292.16" stroke="#333" stroke-width="1"/>
<rect x="171.52" y="310.33" width="6.50" height="46.97" fill="#fff" stroke="#2a2a2a" stroke-width="1.0"/>
<rect x="178.02" y="298.80" width="6.50" height="58.50" fill="#878787" stroke="#2a2a2a" stroke-width="1.0"/>
<line x1="197.28" y1="338.09" x2="197.28" y2="336.52" stroke="#333" stroke-width="1"/>
<line x1="194.13" y1="336.52" x2="200.43" y2="336.52" stroke="#333" stroke-width="1"/>
<line x1="203.78" y1="334.95" x2="203.78" y2="332.15" stroke="#333" stroke-width="1"/>
<line x1="200.63" y1="332.15" x2="206.93" y2="332.15" stroke="#333" stroke-width="1"/>
<rect x="194.03" y="338.09" width="6.50" height="19.21" fill="#fff" stroke="#2a2a2a" stroke-width="1.0"/>
<rect x="200.53" y="334.95" width="6.50" height="22.35" fill="#878787" stroke="#2a2a2a" stroke-width="1.0"/>
<rect x="216.54" y="356.43" width="6.50" height="0.87" fill="#fff" stroke="#2a2a2a" stroke-width="1.0"/>
<rect x="223.04" y="356.43" width="6.50" height="0.87" fill="#878787" stroke="#2a2a2a" stroke-width="1.0"/>
<line x1="54.20" y1="217.10" x2="54.20" y2="357.80" stroke="#2a2a2a" stroke-width="1.1"/>
<line x1="53.70" y1="357.30" x2="234.90" y2="357.30" stroke="#2a2a2a" stroke-width="1.1"/>
<line x1="54.20" y1="357.30" x2="54.20" y2="359.90" stroke="#2a2a2a" stroke-width="1"/>
<line x1="76.71" y1="357.30" x2="76.71" y2="359.90" stroke="#2a2a2a" stroke-width="1"/>
<line x1="99.23" y1="357.30" x2="99.23" y2="359.90" stroke="#2a2a2a" stroke-width="1"/>
<line x1="121.74" y1="357.30" x2="121.74" y2="359.90" stroke="#2a2a2a" stroke-width="1"/>
<line x1="144.25" y1="357.30" x2="144.25" y2="359.90" stroke="#2a2a2a" stroke-width="1"/>
<line x1="166.76" y1="357.30" x2="166.76" y2="359.90" stroke="#2a2a2a" stroke-width="1"/>
<line x1="189.28" y1="357.30" x2="189.28" y2="359.90" stroke="#2a2a2a" stroke-width="1"/>
<line x1="211.79" y1="357.30" x2="211.79" y2="359.90" stroke="#2a2a2a" stroke-width="1"/>
<line x1="234.30" y1="357.30" x2="234.30" y2="359.90" stroke="#2a2a2a" stroke-width="1"/>
<text x="64.66" y="374.00" font-size="8.7" text-anchor="middle" fill="#0a0a0a" stroke="#0a0a0a" stroke-width="0.14" >200</text>
<text x="87.17" y="374.00" font-size="8.7" text-anchor="middle" fill="#0a0a0a" stroke="#0a0a0a" stroke-width="0.14" >100</text>
<text x="109.68" y="374.00" font-size="8.7" text-anchor="middle" fill="#0a0a0a" stroke="#0a0a0a" stroke-width="0.14" >50</text>
<text x="132.19" y="374.00" font-size="8.7" text-anchor="middle" fill="#0a0a0a" stroke="#0a0a0a" stroke-width="0.14" >25</text>
<text x="154.71" y="374.00" font-size="8.7" text-anchor="middle" fill="#0a0a0a" stroke="#0a0a0a" stroke-width="0.14" >10</text>
<text x="177.22" y="374.00" font-size="8.7" text-anchor="middle" fill="#0a0a0a" stroke="#0a0a0a" stroke-width="0.14" >1</text>
<text x="199.73" y="374.00" font-size="8.7" text-anchor="middle" fill="#0a0a0a" stroke="#0a0a0a" stroke-width="0.14" >0.1</text>
<text x="222.24" y="374.00" font-size="8.7" text-anchor="middle" fill="#0a0a0a" stroke="#0a0a0a" stroke-width="0.14" >0</text>
<rect x="61.70" y="209.40" width="37.70" height="28.80" fill="#fff" stroke="#333" stroke-width="1.0"/>
<rect x="67.00" y="214.20" width="5.40" height="5.40" fill="#fff" stroke="#222" stroke-width="1.0"/>
<rect x="67.00" y="228.20" width="5.40" height="5.40" fill="#878787" stroke="#222" stroke-width="1.0"/>
<text x="75.20" y="220.50" font-size="10" text-anchor="start" fill="#0a0a0a" stroke="#0a0a0a" stroke-width="0.1" letter-spacing="0.1">P20</text>
<text x="75.20" y="234.50" font-size="10" text-anchor="start" fill="#0a0a0a" stroke="#0a0a0a" stroke-width="0.1" letter-spacing="0.1">P66v</text>
<text x="144.30" y="389.30" font-size="10.2" text-anchor="middle" fill="#0a0a0a" font-weight="bold" stroke="#0a0a0a" stroke-width="0.18" letter-spacing="0.2">Peptides (&#181;g/mL)</text>
<text x="22.00" y="287.10" font-size="9.5" text-anchor="middle" fill="#0a0a0a" font-weight="bold" stroke="#0a0a0a" stroke-width="0.18" transform="rotate(-90 22.00 287.10)" ><tspan font-weight="normal">%</tspan> Cytotoxicity</text>
<text x="271.60" y="204.00" font-size="19.8" text-anchor="start" fill="#000" font-weight="bold" stroke="#000" stroke-width="0.18" >D</text>
<line x1="309.60" y1="356.20" x2="312.40" y2="356.20" stroke="#2a2a2a" stroke-width="1.1"/>
<text x="304.60" y="359.20" font-size="8.5" text-anchor="end" fill="#0a0a0a" stroke="#0a0a0a" stroke-width="0.28" >0</text>
<line x1="309.60" y1="342.46" x2="312.40" y2="342.46" stroke="#2a2a2a" stroke-width="1.1"/>
<text x="304.60" y="345.46" font-size="8.5" text-anchor="end" fill="#0a0a0a" stroke="#0a0a0a" stroke-width="0.28" >10</text>
<line x1="309.60" y1="328.72" x2="312.40" y2="328.72" stroke="#2a2a2a" stroke-width="1.1"/>
<text x="304.60" y="331.72" font-size="8.5" text-anchor="end" fill="#0a0a0a" stroke="#0a0a0a" stroke-width="0.28" >20</text>
<line x1="309.60" y1="314.98" x2="312.40" y2="314.98" stroke="#2a2a2a" stroke-width="1.1"/>
<text x="304.60" y="317.98" font-size="8.5" text-anchor="end" fill="#0a0a0a" stroke="#0a0a0a" stroke-width="0.28" >30</text>
<line x1="309.60" y1="301.24" x2="312.40" y2="301.24" stroke="#2a2a2a" stroke-width="1.1"/>
<text x="304.60" y="304.24" font-size="8.5" text-anchor="end" fill="#0a0a0a" stroke="#0a0a0a" stroke-width="0.28" >40</text>
<line x1="309.60" y1="287.50" x2="312.40" y2="287.50" stroke="#2a2a2a" stroke-width="1.1"/>
<text x="304.60" y="290.50" font-size="8.5" text-anchor="end" fill="#0a0a0a" stroke="#0a0a0a" stroke-width="0.28" >50</text>
<line x1="309.60" y1="273.76" x2="312.40" y2="273.76" stroke="#2a2a2a" stroke-width="1.1"/>
<text x="304.60" y="276.76" font-size="8.5" text-anchor="end" fill="#0a0a0a" stroke="#0a0a0a" stroke-width="0.28" >60</text>
<line x1="309.60" y1="260.02" x2="312.40" y2="260.02" stroke="#2a2a2a" stroke-width="1.1"/>
<text x="304.60" y="263.02" font-size="8.5" text-anchor="end" fill="#0a0a0a" stroke="#0a0a0a" stroke-width="0.28" >70</text>
<line x1="309.60" y1="246.28" x2="312.40" y2="246.28" stroke="#2a2a2a" stroke-width="1.1"/>
<text x="304.60" y="249.28" font-size="8.5" text-anchor="end" fill="#0a0a0a" stroke="#0a0a0a" stroke-width="0.28" >80</text>
<line x1="309.60" y1="232.54" x2="312.40" y2="232.54" stroke="#2a2a2a" stroke-width="1.1"/>
<text x="304.60" y="235.54" font-size="8.5" text-anchor="end" fill="#0a0a0a" stroke="#0a0a0a" stroke-width="0.28" >90</text>
<line x1="309.60" y1="218.80" x2="312.40" y2="218.80" stroke="#2a2a2a" stroke-width="1.1"/>
<text x="304.60" y="221.80" font-size="8.5" text-anchor="end" fill="#0a0a0a" stroke="#0a0a0a" stroke-width="0.28" >100</text>
<line x1="326.73" y1="280.22" x2="326.73" y2="271.97" stroke="#333" stroke-width="1"/>
<line x1="325.03" y1="271.97" x2="328.43" y2="271.97" stroke="#333" stroke-width="1"/>
<line x1="338.73" y1="260.43" x2="338.73" y2="250.81" stroke="#333" stroke-width="1"/>
<line x1="337.03" y1="250.81" x2="340.43" y2="250.81" stroke="#333" stroke-width="1"/>
<rect x="320.73" y="280.22" width="12.00" height="75.98" fill="#fff" stroke="#2a2a2a" stroke-width="1.0"/>
<rect x="332.73" y="260.43" width="12.00" height="95.77" fill="#878787" stroke="#2a2a2a" stroke-width="1.0"/>
<line x1="366.99" y1="343.28" x2="366.99" y2="341.64" stroke="#333" stroke-width="1"/>
<line x1="365.29" y1="341.64" x2="368.69" y2="341.64" stroke="#333" stroke-width="1"/>
<line x1="378.99" y1="342.32" x2="378.99" y2="341.09" stroke="#333" stroke-width="1"/>
<line x1="377.29" y1="341.09" x2="380.69" y2="341.09" stroke="#333" stroke-width="1"/>
<rect x="360.99" y="343.28" width="12.00" height="12.92" fill="#fff" stroke="#2a2a2a" stroke-width="1.0"/>
<rect x="372.99" y="342.32" width="12.00" height="13.88" fill="#878787" stroke="#2a2a2a" stroke-width="1.0"/>
<line x1="407.25" y1="345.48" x2="407.25" y2="344.25" stroke="#333" stroke-width="1"/>
<line x1="405.55" y1="344.25" x2="408.95" y2="344.25" stroke="#333" stroke-width="1"/>
<line x1="419.25" y1="348.51" x2="419.25" y2="347.27" stroke="#333" stroke-width="1"/>
<line x1="417.55" y1="347.27" x2="420.95" y2="347.27" stroke="#333" stroke-width="1"/>
<rect x="401.25" y="345.48" width="12.00" height="10.72" fill="#fff" stroke="#2a2a2a" stroke-width="1.0"/>
<rect x="413.25" y="348.51" width="12.00" height="7.69" fill="#878787" stroke="#2a2a2a" stroke-width="1.0"/>
<line x1="447.51" y1="346.17" x2="447.51" y2="345.07" stroke="#333" stroke-width="1"/>
<line x1="445.81" y1="345.07" x2="449.21" y2="345.07" stroke="#333" stroke-width="1"/>
<line x1="459.51" y1="349.74" x2="459.51" y2="348.78" stroke="#333" stroke-width="1"/>
<line x1="457.81" y1="348.78" x2="461.21" y2="348.78" stroke="#333" stroke-width="1"/>
<rect x="441.51" y="346.17" width="12.00" height="10.03" fill="#fff" stroke="#2a2a2a" stroke-width="1.0"/>
<rect x="453.51" y="349.74" width="12.00" height="6.46" fill="#878787" stroke="#2a2a2a" stroke-width="1.0"/>
<line x1="487.77" y1="350.02" x2="487.77" y2="348.92" stroke="#333" stroke-width="1"/>
<line x1="486.07" y1="348.92" x2="489.47" y2="348.92" stroke="#333" stroke-width="1"/>
<rect x="481.77" y="350.02" width="12.00" height="6.18" fill="#fff" stroke="#2a2a2a" stroke-width="1.0"/>
<rect x="493.77" y="350.70" width="12.00" height="5.50" fill="#878787" stroke="#2a2a2a" stroke-width="1.0"/>
<line x1="312.40" y1="218.30" x2="312.40" y2="356.70" stroke="#2a2a2a" stroke-width="1.1"/>
<line x1="311.90" y1="356.20" x2="513.80" y2="356.20" stroke="#2a2a2a" stroke-width="1.1"/>
<line x1="312.40" y1="356.20" x2="312.40" y2="358.80" stroke="#2a2a2a" stroke-width="1"/>
<line x1="352.56" y1="356.20" x2="352.56" y2="358.80" stroke="#2a2a2a" stroke-width="1"/>
<line x1="392.72" y1="356.20" x2="392.72" y2="358.80" stroke="#2a2a2a" stroke-width="1"/>
<line x1="432.88" y1="356.20" x2="432.88" y2="358.80" stroke="#2a2a2a" stroke-width="1"/>
<line x1="473.04" y1="356.20" x2="473.04" y2="358.80" stroke="#2a2a2a" stroke-width="1"/>
<line x1="513.20" y1="356.20" x2="513.20" y2="358.80" stroke="#2a2a2a" stroke-width="1"/>
<text x="332.28" y="372.70" font-size="8.5" text-anchor="middle" fill="#0a0a0a" stroke="#0a0a0a" stroke-width="0.14" letter-spacing="-0.1">Imm. Pep</text>
<text x="372.44" y="372.70" font-size="8.5" text-anchor="middle" fill="#0a0a0a" stroke="#0a0a0a" stroke-width="0.14" >Irre Pep</text>
<text x="412.60" y="372.70" font-size="8.5" text-anchor="middle" fill="#0a0a0a" stroke="#0a0a0a" stroke-width="0.14" >Flu</text>
<text x="452.76" y="372.70" font-size="8.5" text-anchor="middle" fill="#0a0a0a" stroke="#0a0a0a" stroke-width="0.14" letter-spacing="0.45">HIV</text>
<text x="492.92" y="372.70" font-size="8.5" text-anchor="middle" fill="#0a0a0a" stroke="#0a0a0a" stroke-width="0.14" >T2</text>
<rect x="317.30" y="213.50" width="36.20" height="28.40" fill="#fff" stroke="#333" stroke-width="1.0"/>
<rect x="320.30" y="218.80" width="6.20" height="6.20" fill="#fff" stroke="#222" stroke-width="1.0"/>
<rect x="320.30" y="232.70" width="6.20" height="6.20" fill="#878787" stroke="#222" stroke-width="1.0"/>
<text x="329.60" y="225.50" font-size="10" text-anchor="start" fill="#0a0a0a" stroke="#0a0a0a" stroke-width="0.1" letter-spacing="0.1">P20</text>
<text x="329.60" y="239.40" font-size="10" text-anchor="start" fill="#0a0a0a" stroke="#0a0a0a" stroke-width="0.1" letter-spacing="0.1">P66<tspan font-style="italic" font-size="9">v</tspan></text>
<text x="412.70" y="389.10" font-size="10.4" text-anchor="middle" fill="#0a0a0a" font-weight="bold" stroke="#0a0a0a" stroke-width="0.18" letter-spacing="0.45">Peptides</text>
<text x="281.70" y="281.00" font-size="10" text-anchor="middle" fill="#0a0a0a" font-weight="bold" stroke="#0a0a0a" stroke-width="0.18" transform="rotate(-90 281.70 281.00)" letter-spacing="0.45"><tspan font-weight="normal" font-size="8.5">%</tspan> Cytotoxity</text>
</svg>
</body></html>
